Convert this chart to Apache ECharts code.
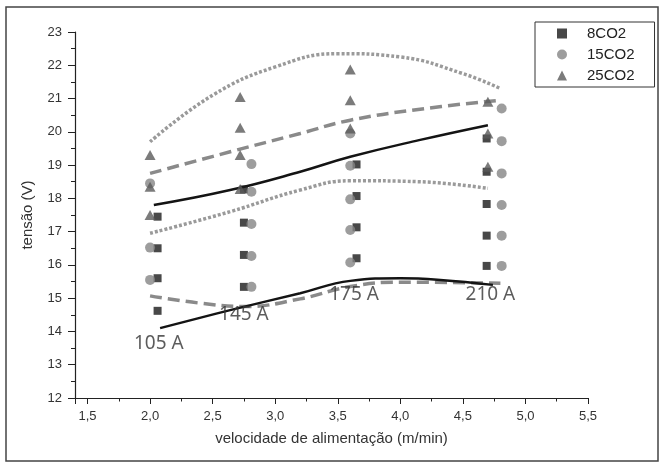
<!DOCTYPE html>
<html>
<head>
<meta charset="utf-8">
<script src="https://cdn.jsdelivr.net/npm/echarts@6/dist/echarts.min.js"></script>
<style>
  html, body { margin: 0; padding: 0; background: #fff; }
  #chart { width: 665px; height: 468px; }
</style>
</head>
<body>
<div id="chart"></div>
<script>
// pontos medidos [velocidade, tensão]
const co2_8 = [
  [2.06, 17.45], [2.06, 16.5], [2.06, 15.6], [2.06, 14.62],
  [2.75, 18.27], [2.75, 17.27], [2.75, 16.3], [2.75, 15.34],
  [3.65, 19.02], [3.65, 18.07], [3.65, 17.13], [3.65, 16.2],
  [4.69, 19.8], [4.69, 18.8], [4.69, 17.83], [4.69, 16.88], [4.69, 15.97]
]
const co2_15 = [
  [2.0, 18.45], [2.0, 16.52], [2.0, 15.55],
  [2.81, 19.03], [2.81, 18.2], [2.81, 17.23], [2.81, 16.27], [2.81, 15.34],
  [3.6, 19.95], [3.6, 18.98], [3.6, 17.97], [3.6, 17.05], [3.6, 16.07],
  [4.81, 20.7], [4.81, 19.72], [4.81, 18.75], [4.81, 17.8], [4.81, 16.88], [4.81, 15.97]
]
const co2_25 = [
  [2.0, 19.3], [2.0, 18.35], [2.0, 17.5],
  [2.72, 21.05], [2.72, 20.12], [2.72, 19.3], [2.72, 18.28],
  [3.6, 21.87], [3.6, 20.95], [3.6, 20.1],
  [4.7, 20.9], [4.7, 19.95], [4.7, 18.95]
]

// curvas de limite
const blackUpper = [[2.03, 17.8], [2.64, 18.25], [3.2, 18.8], [3.6, 19.25], [4.15, 19.75], [4.7, 20.2]]
const blackLower = [[2.08, 14.1], [2.64, 14.64], [3.2, 15.15], [3.6, 15.52], [4.0, 15.6], [4.32, 15.55], [4.74, 15.4]]
const dashUpper = [[2.0, 18.75], [2.64, 19.4], [3.2, 19.95], [3.6, 20.35], [4.2, 20.7], [4.8, 20.95]]
const dashLower = [[2.0, 15.07], [2.4, 14.85], [2.75, 14.75], [3.2, 14.98], [3.6, 15.35], [4.0, 15.48], [4.8, 15.45]]
const dotUpper = [[2.0, 19.7], [2.5, 21.1], [3.0, 21.95], [3.5, 22.35], [4.0, 22.25], [4.5, 21.75], [4.8, 21.3]]
const dotLower = [[2.0, 16.95], [2.64, 17.6], [3.2, 18.25], [3.6, 18.53], [4.15, 18.5], [4.7, 18.3]]

// correntes
const currentNames = ['105 A', '145 A', '175 A', '210 A']
const currentAt = [[2.07, 13.65], [2.75, 14.5], [3.63, 15.1], [4.72, 15.12]]

const chart = echarts.init(document.getElementById('chart'))

const axisFont = 'Liberation Sans, Arial, sans-serif'

function curve(data, color, width, type) {
  return {
    type: 'line',
    data: data,
    smooth: 0.45,
    showSymbol: false,
    silent: true,
    z: 1,
    lineStyle: { color: color, width: width, type: type }
  }
}

const option = {
  animation: false,
  grid: { left: 75, right: 77, top: 32, bottom: 70 },
  graphic: [{
    type: 'rect',
    silent: true,
    shape: { x: 6, y: 7, width: 652, height: 454 },
    style: { fill: null, stroke: '#444', lineWidth: 1.5 }
  }],
  legend: {
    data: ['8CO2', '15CO2', '25CO2'],
    orient: 'vertical',
    left: 535,
    top: 22,
    itemWidth: 10,
    itemHeight: 10,
    itemGap: 6,
    padding: [4, 20, 4, 22],
    borderColor: '#333',
    borderWidth: 1,
    formatter: (name) => '{t|' + name + '}',
    textStyle: {
      rich: {
        t: { padding: [0, 0, 0, 15], fontFamily: axisFont, fontSize: 15, lineHeight: 16, color: '#222' }
      }
    }
  },
  xAxis: {
    type: 'value',
    min: 1.4,
    max: 5.5,
    minInterval: 0.5,
    maxInterval: 0.5,
    splitLine: { show: false },
    axisLine: { show: true, onZero: false, lineStyle: { color: '#222', width: 1.2 } },
    axisTick: { show: true, length: 6, lineStyle: { color: '#222' } },
    minorTick: { show: true, splitNumber: 2, length: 3.5, lineStyle: { color: '#222' } },
    axisLabel: {
      margin: 12,
      fontFamily: axisFont,
      fontSize: 13,
      color: '#333',
      formatter: (v) => {
        if (Math.abs(v * 2 - Math.round(v * 2)) > 1e-6) return ''
        return v.toFixed(1).replace('.', ',')
      }
    },
    name: 'velocidade de alimentação (m/min)',
    nameLocation: 'middle',
    nameGap: 33,
    nameTextStyle: { fontFamily: axisFont, fontSize: 15, color: '#333' }
  },
  yAxis: {
    type: 'value',
    min: 12,
    max: 23,
    interval: 1,
    splitLine: { show: false },
    axisLine: { show: true, onZero: false, lineStyle: { color: '#222', width: 1.2 } },
    axisTick: { show: true, length: 7, lineStyle: { color: '#222' } },
    minorTick: { show: true, splitNumber: 2, length: 4, lineStyle: { color: '#222' } },
    axisLabel: { margin: 13, fontFamily: axisFont, fontSize: 13, color: '#333' },
    name: 'tensão (V)',
    nameLocation: 'middle',
    nameGap: 40,
    nameTextStyle: { fontFamily: axisFont, fontSize: 15, color: '#333' }
  },
  series: [
    curve(dotUpper, '#9a9a9a', 3.5, [3, 2]),
    curve(dotLower, '#9a9a9a', 3.5, [3, 2]),
    curve(dashUpper, '#8a8a8a', 3.5, [12, 6]),
    curve(dashLower, '#8a8a8a', 3.5, [12, 6]),
    curve(blackUpper, '#141414', 2.5, 'solid'),
    curve(blackLower, '#141414', 2.5, 'solid'),
    {
      name: '8CO2',
      type: 'scatter',
      data: co2_8,
      symbol: 'rect',
      symbolSize: 8,
      z: 3,
      itemStyle: { color: '#1a1a1a' }
    },
    {
      name: '15CO2',
      type: 'scatter',
      data: co2_15,
      symbol: 'circle',
      symbolSize: 10,
      z: 4,
      itemStyle: { color: '#858585' }
    },
    {
      name: '25CO2',
      type: 'scatter',
      data: co2_25,
      symbol: 'triangle',
      symbolSize: [11, 10],
      z: 5,
      itemStyle: { color: '#5a5a5a' }
    },
    {
      type: 'scatter',
      silent: true,
      z: 6,
      symbolSize: 0,
      data: currentAt.map((p, i) => ({ value: p, name: currentNames[i] })),
      label: {
        show: true,
        position: 'inside',
        formatter: (p) => p.name,
        fontFamily: 'Noto Sans, Open Sans, sans-serif',
        fontSize: 19,
        color: '#333'
      }
    }
  ]
}

chart.setOption(option)
</script>
</body>
</html>
